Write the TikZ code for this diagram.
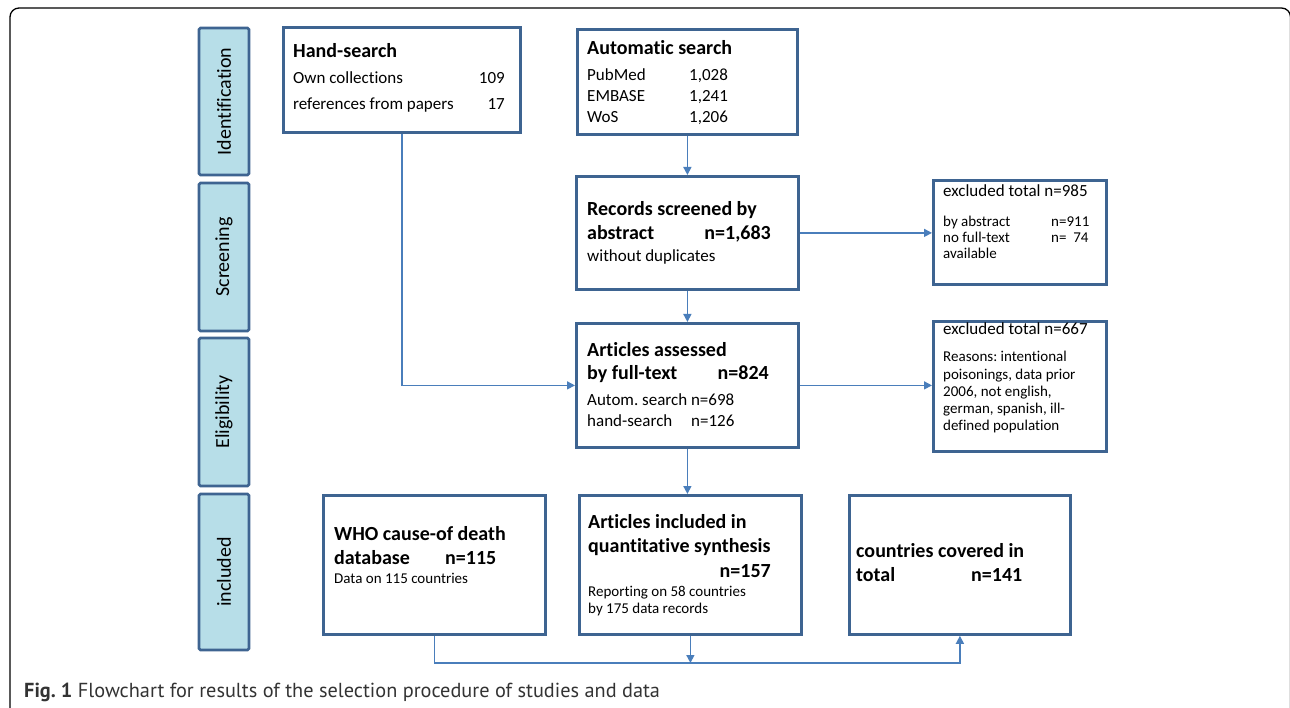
\documentclass[tikz,border=0pt]{standalone}
\usepackage{fontspec}
\setmainfont{Carlito}[Ligatures=NoCommon]
\newfontfamily\capfont{PT Sans}
\usetikzlibrary{arrows.meta}
\definecolor{bord}{RGB}{62,100,145}
\definecolor{arr}{RGB}{74,126,187}
\definecolor{stagefill}{RGB}{183,222,232}
\frenchspacing
\begin{document}
\begin{tikzpicture}[x=1pt,y=-1pt,
  box/.style={draw=bord, line width=2.8pt, fill=white, anchor=north west, inner sep=0pt},
  stagebox/.style={draw=bord, line width=2.8pt, fill=stagefill, inner sep=0pt, rounded corners=1.5pt, rotate=90, font=\fontsize{20}{22}\selectfont},
  ttl/.style={anchor=base west, inner sep=0pt, font=\fontsize{20}{22}\selectfont\bfseries},
  ttr/.style={anchor=base east, inner sep=0pt, font=\fontsize{20}{22}\selectfont\bfseries},
  txt/.style={anchor=base west, inner sep=0pt, font=\fontsize{17}{20}\selectfont},
  txr/.style={anchor=base east, inner sep=0pt, font=\fontsize{17}{20}\selectfont},
  sml/.style={anchor=base west, inner sep=0pt, font=\fontsize{15}{17}\selectfont},
  conn/.style={draw=arr, line width=1.5pt, -{Triangle[length=8pt,width=8pt]}},
  line/.style={draw=arr, line width=1.5pt}
]
\useasboundingbox (0,0) rectangle (1290,708);
% outer frame
\draw[line width=1.3pt, rounded corners=9pt] (10,709) -- (10,8) -- (1290.5,8) -- (1290.5,709);

% stage boxes
\node (s1) [stagebox, minimum width=147pt, minimum height=50pt] at (224,101.5) {Identification};
\node (s2) [stagebox, minimum width=148pt, minimum height=50pt] at (224,257) {Screening};
\node (s3) [stagebox, minimum width=148pt, minimum height=50pt] at (224,412) {Eligibility};
\node (s4) [stagebox, minimum width=156pt, minimum height=50pt] at (224,572) {included};

% boxes
\node (hs)  [box, minimum width=237pt, minimum height=105pt] at (282,26) {};
\node (au)  [box, minimum width=220pt, minimum height=105pt] at (576,28) {};
\node (rec) [box, minimum width=222pt, minimum height=113pt] at (575,175) {};
\node (art) [box, minimum width=222pt, minimum height=124pt] at (575,322) {};
\node (ex1) [box, minimum width=173pt, minimum height=104pt] at (932,179) {};
\node (ex2) [box, minimum width=173pt, minimum height=130pt] at (932,320) {};
\node (who) [box, minimum width=222pt, minimum height=139pt] at (322,494) {};
\node (inc) [box, minimum width=222pt, minimum height=139pt] at (578,494) {};
\node (cty) [box, minimum width=221pt, minimum height=139pt] at (848,494) {};

% hand-search text
\node (hs1) [ttl] at (293,58) {Hand-search};
\node (hs2) [txt] at (293,84) {Own collections};
\node (hs3) [txr] at (505,84) {109};
\node (hs4) [txt] at (293,110) {references from papers};
\node (hs5) [txr] at (505,110) {17};

% automatic search text
\node (au1) [ttl] at (587,55) {Automatic search};
\node (au2) [txt] at (587,81) {PubMed};
\node (au3) [txt] at (689,81) {1,028};
\node (au4) [txt] at (587,102) {EMBASE};
\node (au5) [txt] at (689,102) {1,241};
\node (au6) [txt] at (587,123) {WoS};
\node (au7) [txt] at (689,123) {1,206};

% records text
\node (rc1) [ttl] at (587,216) {Records screened by};
\node (rc2) [ttl] at (587,240) {abstract};
\node (rc3) [ttr] at (771,240) {n=1,683};
\node (rc4) [txt] at (587,262) {without duplicates};

% articles assessed text
\node (ar1) [ttl] at (587,356) {Articles assessed};
\node (ar2) [ttl] at (587,380) {by full-text};
\node (ar3) [ttr] at (769,380) {n=824};
\node (ar4) [txt] at (587,405) {Autom.\ search n=698};
\node (ar5) [txt] at (587,426) {hand-search};
\node (ar6) [txt] at (691,426) {n=126};

% excluded 1
\node (e11) [txt] at (943,197) {excluded total n=985};
\node (e12) [sml] at (943,227) {by abstract};
\node (e13) [sml] at (1051,227) {n=911};
\node (e14) [sml] at (943,243) {no full-text};
\node (e15) [sml] at (1051,243) {n=\ \ 74};
\node (e16) [sml] at (943,259) {available};

% excluded 2
\node (e21) [txt] at (943,335) {excluded total n=667};
\node (e22) [sml] at (943,362) {Reasons: intentional};
\node (e23) [sml] at (943,379) {poisonings, data prior};
\node (e24) [sml] at (943,396) {2006, not english,};
\node (e25) [sml] at (943,413) {german, spanish, ill-};
\node (e26) [sml] at (943,430) {defined population};

% WHO
\node (w1) [ttl] at (334,540) {WHO cause-of death};
\node (w2) [ttl] at (334,564) {database};
\node (w3) [ttl] at (445,564) {n=115};
\node (w4) [sml] at (334,583) {Data on 115 countries};

% included articles
\node (i1) [ttl] at (588,528) {Articles included in};
\node (i2) [ttl] at (588,552) {quantitative synthesis};
\node (i3) [ttr] at (771,577) {n=157};
\node (i4) [sml] at (588,596) {Reporting on 58 countries};
\node (i5) [sml] at (588,613) {by 175 data records};

% countries
\node (c1) [ttl] at (856,557) {countries covered in};
\node (c2) [ttl] at (856,581) {total};
\node (c3) [ttl] at (971,581) {n=141};

% connectors
\coordinate (bus) at (0,663);
\draw[conn] (au.south) -- (rec.north);
\draw[conn] (rec.south) -- (art.north);
\draw[conn] (rec.east) -- (rec.east -| ex1.west);
\draw[conn] (art.east) -- (art.east -| ex2.west);
\draw[conn] (hs.south) |- (art.west);
\draw[conn] (art.south) -- (art.south |- inc.north);
\draw[conn] (who.south) |- (bus -| cty.south) -- (cty.south);
\draw[conn] (inc.south) -- (inc.south |- bus);

% caption
\node (cap) [anchor=base west, inner sep=0pt, font=\capfont\fontsize{20.3}{22}\selectfont, text=black!80] at (24,697) {\textbf{Fig. 1} Flowchart for results of the selection procedure of studies and data};
\end{tikzpicture}
\end{document}
